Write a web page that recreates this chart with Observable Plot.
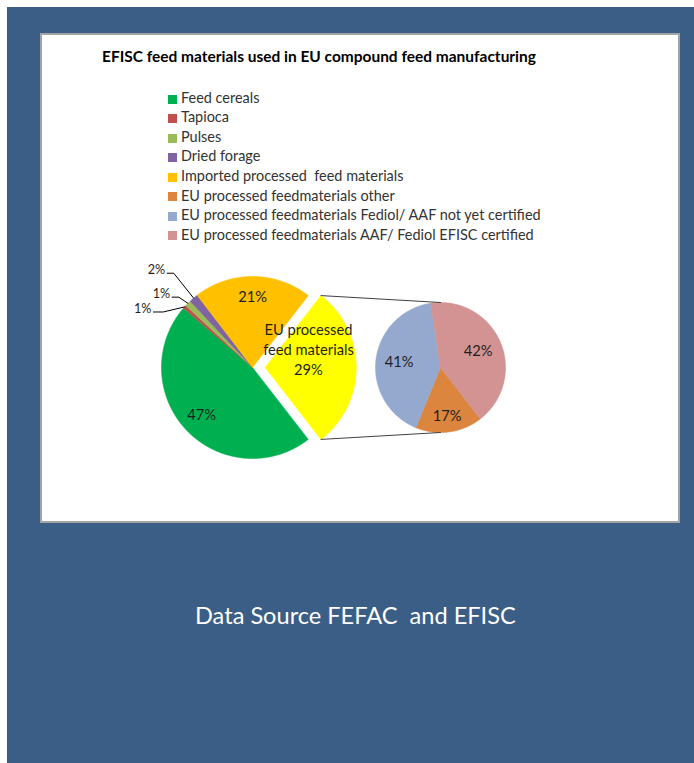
<!DOCTYPE html>
<html>
<head>
<meta charset="utf-8">
<script src="https://cdn.jsdelivr.net/npm/d3@7"></script>
<script src="https://cdn.jsdelivr.net/npm/@observablehq/plot@0.6"></script>
<style>
html, body { margin: 0; padding: 0; background: #ffffff; }
body { width: 694px; height: 763px; position: relative; overflow: hidden; font-family: Lato, "Open Sans", sans-serif; }
#bg { position: absolute; left: 7px; top: 7px; width: 687px; height: 756px; background: #3b5e87; }
#panel { position: absolute; left: 40px; top: 33px; width: 636px; height: 486px; background: #ffffff; border: 2px solid #a3a3a3; }
.abs { position: absolute; white-space: pre; line-height: 1; font-family: Lato, sans-serif; }
.sw { position: absolute; width: 9px; height: 9px; }
#chart { position: absolute; left: 120px; top: 255px; }
</style>
</head>
<body>
<div id="bg"></div>
<div id="panel"></div>
<div id="title" class="abs"></div>
<div id="legend"></div>
<div id="chart"></div>
<div id="source" class="abs"></div>
<script>
// ---------------- DATA ----------------
const titleText = "EFISC feed materials used in EU compound feed manufacturing";
const sourceText = "Data Source FEFAC  and EFISC";

const mainCategories = ["Feed cereals", "Tapioca", "Pulses", "Dried forage", "Imported processed  feed materials", "EU processed feed materials"];
const mainValues = [46.8, 0.6, 1.1, 1.6, 20.9, 29.0];
const mainColors = ["#00b050", "#c0504d", "#9bbb59", "#8064a2", "#ffc000", "#ffff00"];

const subCategories = ["EU processed feedmaterials other", "EU processed feedmaterials Fediol/ AAF not yet certified", "EU processed feedmaterials AAF/ Fediol EFISC certified"];
const subValues = [16.7, 41.4, 41.9];
const subColors = ["#dc853f", "#95a9cf", "#d29392"];

const splitLabelLines = ["EU processed", "feed materials"];

// ---------------- LAYOUT ----------------
const PX = 91;               // pixels per unit (main pie radius)
const CX = 252, CY = 367;    // main pie centre on the page
const SUB_X = 188 / PX;      // secondary pie centre (units)
const SUB_R = 65 / PX;       // secondary pie radius (units)
const EXPLODE = 0.14;        // split slice offset (units)
const INNER_R = 0.77;
const SUB_LABEL_R = [0.76, 0.64, 0.63];
const LEADERS = [
  {elbow: [-0.981, 0.610], len: 0.107},
  {elbow: [-0.810, 0.773], len: 0.073},
  {elbow: [-0.865, 1.036], len: 0.073}
];
const BOX = {left: 120, top: 255, width: 410, height: 215};

// ---------------- FONTS ----------------
const ctx = document.createElement("canvas").getContext("2d");
function fitSize(text, weight, target) {
  ctx.font = `${weight} 100px Lato`;
  return 100 * target / ctx.measureText(text).width;
}
function place(el, text, weight, size, x, baseline, color) {
  ctx.font = `${weight} ${size}px Lato`;
  const m = ctx.measureText("Hg");
  const asc = m.fontBoundingBoxAscent || size * 0.987;
  const desc = m.fontBoundingBoxDescent || size * 0.213;
  const top = baseline - ((size - (asc + desc)) / 2 + asc);
  Object.assign(el.style, {left: x + "px", top: top + "px", fontSize: size + "px", fontWeight: weight, color});
  el.textContent = text;
}

const titleSize = fitSize(titleText, "bold", 434);
place(document.getElementById("title"), titleText, "bold", titleSize, 102, 63, "#000000");

const sourceSize = fitSize(sourceText, "normal", 321);
place(document.getElementById("source"), sourceText, "normal", sourceSize, 195, 625, "#ffffff");

// Legend
const legendNames = [...mainCategories.slice(0, 5), ...subCategories];
const legendColors = [...mainColors.slice(0, 5), ...subColors];
const legendSize = fitSize(subCategories[1], "normal", 361);
const legendEl = document.getElementById("legend");
legendNames.forEach((name, i) => {
  const cy = 99 + i * 19.57;
  const sw = document.createElement("div");
  sw.className = "sw";
  Object.assign(sw.style, {left: "168px", top: (cy - 4.5) + "px", background: legendColors[i]});
  legendEl.appendChild(sw);
  const t = document.createElement("div");
  t.className = "abs";
  place(t, name, "normal", legendSize, 181, cy + 4.5, "#333333");
  legendEl.appendChild(t);
});

// ---------------- GEOMETRY ----------------
const toXY = (cx, cy, r, deg) => [cx + r * Math.sin(deg * Math.PI / 180), cy + r * Math.cos(deg * Math.PI / 180)];
const pct = (v, total) => Math.round(v / total * 100) + "%";

function makeSlices(names, values, start, cx, cy, r, explodeLast) {
  const total = d3.sum(values);
  let acc = start;
  return values.map((v, i) => {
    const a0 = acc, a1 = acc + v / total * 360;
    acc = a1;
    const mid = (a0 + a1) / 2;
    let ox = cx, oy = cy;
    if (explodeLast && i === values.length - 1) [ox, oy] = toXY(cx, cy, EXPLODE, mid);
    return {name: names[i], value: v, share: v / total, label: pct(v, total), a0, a1, mid, cx: ox, cy: oy, r};
  });
}
function polygon(s) {
  const n = Math.max(2, Math.ceil((s.a1 - s.a0) / 0.5));
  const pts = [{key: s.name, x: s.cx, y: s.cy}];
  for (let k = 0; k <= n; k++) {
    const [x, y] = toXY(s.cx, s.cy, s.r, s.a0 + (s.a1 - s.a0) * k / n);
    pts.push({key: s.name, x, y});
  }
  pts.push({key: s.name, x: s.cx, y: s.cy});
  return pts;
}

const splitShare = mainValues[mainValues.length - 1] / d3.sum(mainValues);
const START = 90 + splitShare * 180;
const mainSlices = makeSlices(mainCategories, mainValues, START, 0, 0, 1, true);
const subSlices = makeSlices(subCategories, subValues, START, SUB_X, 0, SUB_R, false);
const allSlices = [...mainSlices, ...subSlices];
const polys = allSlices.flatMap(polygon);

const split = mainSlices[mainSlices.length - 1];
const [tx, ty] = toXY(split.cx, split.cy, 1, split.a0);
const [bx, by] = toXY(split.cx, split.cy, 1, split.a1);
const connectors = [
  {k: "top", x: tx, y: ty}, {k: "top", x: SUB_X, y: SUB_R},
  {k: "bottom", x: bx, y: by}, {k: "bottom", x: SUB_X, y: -SUB_R}
];

// labels
const innerLabels = mainSlices.filter((s, i) => i < mainSlices.length - 1 && s.share >= 0.05)
  .map(s => { const [x, y] = toXY(s.cx, s.cy, INNER_R, s.mid); return {x, y, text: s.label}; });
subSlices.forEach((s, i) => { const [x, y] = toXY(s.cx, s.cy, SUB_R * SUB_LABEL_R[i], s.mid); innerLabels.push({x, y, text: s.label}); });
const [sx, sy] = toXY(split.cx, split.cy, 0.475, split.mid);
const splitLines = [...splitLabelLines, split.label];
const splitCenterY = sy + 17 / PX;
splitLines.forEach((t, k) => innerLabels.push({x: sx, y: splitCenterY - (k - 1) * 20 / PX, text: t}));

const small = mainSlices.filter((s, i) => i < mainSlices.length - 1 && s.share < 0.05);
const leaderPts = [], outerLabels = [];
small.forEach((s, i) => {
  const L = LEADERS[i];
  const [ex, ey] = L.elbow;
  const [px, py] = toXY(0, 0, 1, s.mid);
  leaderPts.push({k: s.name, x: ex - L.len, y: ey}, {k: s.name, x: ex, y: ey}, {k: s.name, x: px, y: py});
  outerLabels.push({x: ex - L.len, y: ey, text: s.label});
});

const innerSize = fitSize("feed materials", "normal", 90.7);
const outerSize = fitSize("2%", "normal", 17.5);

const chart = Plot.plot({
  width: BOX.width,
  height: BOX.height,
  margin: 0,
  x: {domain: [(BOX.left - CX) / PX, (BOX.left + BOX.width - CX) / PX], axis: null},
  y: {domain: [(CY - BOX.top - BOX.height) / PX, (CY - BOX.top) / PX], axis: null},
  color: {type: "ordinal", domain: allSlices.map(s => s.name), range: [...mainColors, ...subColors]},
  style: {fontFamily: "Lato, sans-serif", background: "transparent", overflow: "visible"},
  marks: [
    Plot.line(polys, {x: "x", y: "y", z: "key", fill: "key", stroke: "key", strokeWidth: 0.6, curve: "linear"}),
    Plot.line(connectors, {x: "x", y: "y", z: "k", stroke: "#404040", strokeWidth: 1}),
    Plot.line(leaderPts, {x: "x", y: "y", z: "k", stroke: "#000000", strokeWidth: 1}),
    Plot.text(innerLabels, {x: "x", y: "y", text: "text", fontSize: innerSize, fill: "#1f1f1f", lineAnchor: "middle"}),
    Plot.text(outerLabels, {x: "x", y: "y", text: "text", fontSize: outerSize, fill: "#1f1f1f", textAnchor: "end", dx: -2, dy: 1 - 0.32 * outerSize, lineAnchor: "middle"})
  ]
});
document.getElementById("chart").appendChild(chart);
</script>
</body>
</html>
